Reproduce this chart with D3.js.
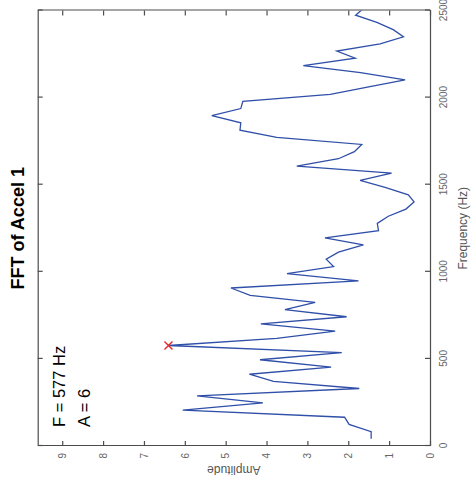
<!DOCTYPE html>
<html>
<head>
<meta charset="utf-8">
<script src="https://cdn.jsdelivr.net/npm/d3@7"></script>
<style>
  html, body { margin: 0; padding: 0; background: #fff; }
  svg { display: block; font-family: "Liberation Sans", Arial, Helvetica, sans-serif; }
</style>
</head>
<body>
<svg id="chart" width="474" height="497"></svg>
<script>
// ---- data ----
const frequency = [41, 82, 124, 165, 206, 247, 288, 330, 371, 412, 453, 495, 536, 577, 618, 659, 701, 742, 783, 824,
  865, 907, 948, 989, 1030, 1072, 1113, 1154, 1195, 1236, 1278, 1319, 1360, 1401, 1442, 1484, 1525, 1566, 1607, 1649,
  1690, 1731, 1772, 1813, 1855, 1896, 1937, 1978, 2019, 2061, 2102, 2143, 2184, 2226, 2267, 2308, 2349, 2390, 2432, 2473, 2514];
const amplitude = [1.44, 1.44, 1.98, 2.09, 6.05, 4.09, 5.70, 1.73, 3.83, 4.42, 2.42, 4.16, 2.16, 6.40, 3.75, 2.32, 4.14, 2.04, 3.55, 2.81,
  4.40, 4.87, 1.75, 3.50, 2.36, 2.54, 2.24, 1.63, 2.57, 1.26, 1.29, 1.02, 0.59, 0.39, 0.53, 1.10, 1.71, 0.94, 3.26, 2.24,
  1.85, 1.67, 3.75, 4.65, 4.63, 5.34, 4.63, 4.58, 2.44, 1.50, 0.61, 1.70, 3.10, 1.83, 2.28, 1.22, 0.65, 0.90, 1.30, 1.82, 1.62];
const peakFrequency = [577];
const peakAmplitude = [6.40];
const freqTicks = [0, 500, 1000, 1500, 2000, 2500];
const ampTicks = [0, 1, 2, 3, 4, 5, 6, 7, 8, 9];
const freqDomain = [0, 2500];
const ampDomain = [0, 9.6];
const titleText = "FFT of Accel 1";
const xLabelText = "Frequency (Hz)";
const yLabelText = "Amplitude";
const annotation = ["F = 577 Hz", "A = 6"];

// ---- layout (original, unrotated figure is 497 wide x 474 tall) ----
const FW = 497, FH = 474;
const pL = 51, pR = 486.5, pT = 37.7, pB = 430;
const axisColor = "#4d4d4d";
const lineColor = "#2f4fa8";

const svg = d3.select("#chart");
const g = svg.append("g").attr("transform", `translate(0,${FW}) rotate(-90)`);

const x = d3.scaleLinear().domain(freqDomain).range([pL, pR]);
const y = d3.scaleLinear().domain(ampDomain).range([pB, pT]);

g.append("clipPath").attr("id", "clip").append("rect")
  .attr("x", pL).attr("y", pT).attr("width", pR - pL).attr("height", pB - pT);

// line
const pts = frequency.map((f, i) => [f, amplitude[i]]);
g.append("path")
  .attr("clip-path", "url(#clip)")
  .attr("d", d3.line().x(d => x(d[0])).y(d => y(d[1]))(pts))
  .attr("fill", "none").attr("stroke", lineColor).attr("stroke-width", 1.3)
  .attr("stroke-linejoin", "miter");

// peak marker (x)
const mk = g.append("g");
peakFrequency.forEach((f, i) => {
  const px = x(f), py = y(peakAmplitude[i]), s = 4;
  mk.append("path")
    .attr("d", `M${px - s},${py - s}L${px + s},${py + s}M${px - s},${py + s}L${px + s},${py - s}`)
    .attr("stroke", "#e8262b").attr("stroke-width", 1.4).attr("fill", "none");
});

// axes
function styleAxis(sel) {
  sel.select(".domain").attr("stroke", axisColor).attr("stroke-width", 1.2);
  sel.selectAll(".tick line").attr("stroke", axisColor).attr("stroke-width", 1.2);
  sel.selectAll(".tick text").attr("fill", "#666").style("font-size", "10px")
     .style("font-family", "'Liberation Sans', Arial, Helvetica, sans-serif");
}
const xb = g.append("g").attr("transform", `translate(0,${pB})`)
  .call(d3.axisBottom(x).tickValues(freqTicks).tickFormat(d3.format("d")).tickSizeInner(-5).tickSizeOuter(0).tickPadding(10));
styleAxis(xb);
const xt = g.append("g").attr("transform", `translate(0,${pT})`)
  .call(d3.axisTop(x).tickValues(freqTicks).tickFormat("").tickSizeInner(-5).tickSizeOuter(0));
styleAxis(xt);
const yl = g.append("g").attr("transform", `translate(${pL},0)`)
  .call(d3.axisLeft(y).tickValues(ampTicks).tickFormat(d3.format("d")).tickSizeInner(-5).tickSizeOuter(0).tickPadding(7));
styleAxis(yl);
const yr = g.append("g").attr("transform", `translate(${pR},0)`)
  .call(d3.axisRight(y).tickValues(ampTicks).tickFormat("").tickSizeInner(-5).tickSizeOuter(0));
styleAxis(yr);

// labels
g.append("text").attr("x", (pL + pR) / 2).attr("y", 24)
  .attr("text-anchor", "middle").style("font-size", "18px").style("font-weight", "bold").attr("fill", "#000")
  .text(titleText);
g.append("text").attr("x", (pL + pR) / 2).attr("y", 467)
  .attr("text-anchor", "middle").style("font-size", "12px").attr("fill", "#555")
  .text(xLabelText);
g.append("text").attr("transform", `translate(31,${(pT + pB) / 2}) rotate(-90)`)
  .attr("text-anchor", "middle").style("font-size", "12px").attr("fill", "#555")
  .text(yLabelText);

// annotation
annotation.forEach((t, i) => {
  g.append("text").attr("x", 70).attr("y", 65 + i * 25)
    .style("font-size", "16.5px").attr("fill", "#000").text(t);
});
</script>
</body>
</html>
